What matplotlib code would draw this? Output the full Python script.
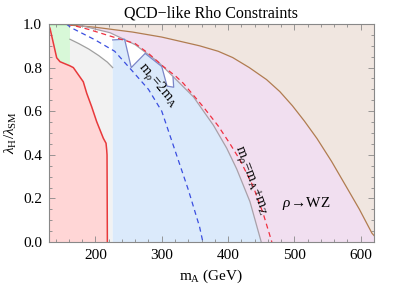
import numpy as np
import matplotlib
matplotlib.use("Agg")
import matplotlib.pyplot as plt
from matplotlib.ticker import MultipleLocator

plt.rcParams["font.family"] = ["Liberation Serif", "DejaVu Serif"]
plt.rcParams["mathtext.fontset"] = "custom"
plt.rcParams["mathtext.rm"] = "Liberation Serif"
plt.rcParams["mathtext.it"] = "Liberation Serif:italic"

# curves (m_A in GeV, lambda_H/lambda_SM)
red_x = [130, 131.5, 141.6, 146.6, 161.6, 166.7, 181.7, 186.9, 194.4, 201.9, 211.9, 216.0, 217.0, 217.5, 218.0]
red_y = [0.99, 0.98, 0.845, 0.827, 0.808, 0.80, 0.735, 0.682, 0.62, 0.552, 0.476, 0.453, 0.422, 0.40, 0.0]

gray_x = [161.6, 175, 190, 205, 218, 226]
gray_y = [0.93, 0.91, 0.885, 0.855, 0.825, 0.80]

brown_x = [161, 200, 256, 300, 357, 385, 407, 432, 458, 478, 497, 515, 534, 556, 578, 598, 617, 620]
brown_y = [0.995, 0.985, 0.963, 0.94, 0.90, 0.875, 0.846, 0.80, 0.745, 0.69, 0.625, 0.555, 0.475, 0.37, 0.255, 0.15, 0.04, 0.03]

wz_x = [175, 222, 260, 295, 320, 348, 378, 398, 413, 433, 450]
wz_y = [0.995, 0.96, 0.905, 0.825, 0.75, 0.665, 0.535, 0.43, 0.335, 0.185, 0.0]

zig_x = [226, 244, 254, 275, 300, 308, 318, 317]
zig_y = [0.927, 0.93, 0.80, 0.865, 0.805, 0.715, 0.71, 0.755]

bd_x = [156, 164, 199, 229, 254, 280, 300, 320, 340, 357, 362]
bd_y = [1.0, 0.982, 0.928, 0.875, 0.79, 0.70, 0.60, 0.42, 0.24, 0.07, 0.0]

rd_x = [158, 190, 224, 260, 280, 302, 322, 332.5, 362.6, 385, 403, 418, 438, 453, 466]
rd_y = [1.0, 0.975, 0.943, 0.91, 0.865, 0.806, 0.758, 0.728, 0.62, 0.533, 0.45, 0.376, 0.254, 0.13, 0.0]

blue_left = 226
green_right = 161.6

fig = plt.figure(figsize=(3.99, 2.88), dpi=100)
ax = fig.add_axes([0.1228, 0.1597, 0.8145, 0.757])

# tan region above / right of the brown curve
ax.fill(brown_x + [620, 161], brown_y + [1.0, 1.0], color="#f0e6e0", lw=0)
# purple region between WZ threshold and brown curve
px = wz_x + [620] + brown_x[::-1]
py = wz_y + [0.0] + brown_y[::-1]
ax.fill(px, py, color="#f1dff0", lw=0)
# gray region
gx = gray_x + [blue_left, red_x[-1]] + [x for x in red_x[::-1] if x >= green_right]
gy = gray_y + [0.0, 0.0] + [y for x, y in zip(red_x[::-1], red_y[::-1]) if x >= green_right]
ax.fill(gx, gy, color="#f2f2f2", lw=0)
# blue region
i0 = next(i for i, x in enumerate(wz_x) if x > zig_x[-1])
bx = [blue_left] + zig_x + wz_x[i0:] + [blue_left]
by = [0.0] + zig_y + wz_y[i0:] + [0.0]
ax.fill(bx, by, color="#dbeafb", lw=0)
# green region
grx = [x for x in red_x if x <= green_right]
gry = [y for x, y in zip(red_x, red_y) if x <= green_right]
ax.fill(grx + [green_right, 130], gry + [1.0, 1.0], color="#d8f8d8", lw=0)
ax.plot([130, green_right], [0.998, 0.998], color="#66cc66", lw=1)
# red region
ax.fill([130] + red_x + [130], [0.0] + red_y + [0.0], color="#ffd6d6", lw=0)

ax.plot(red_x, red_y, color="#e8393b", lw=1.1)
ax.plot(gray_x, gray_y, color="#a0a0a0", lw=0.9)
ax.plot(brown_x, brown_y, color="#b07c50", lw=0.9)
ax.plot(wz_x, wz_y, color="#a8a0a8", lw=0.9)
ax.plot(zig_x, zig_y, color="#7b86c8", lw=0.9)
ax.plot(bd_x, bd_y, color="#3a4ee0", lw=0.9, ls=(0, (4, 3)))
ax.plot(rd_x, rd_y, color="#f03040", lw=0.9, ls=(0, (4, 3)))

ax.text(293.7, 0.716, r"$\mathrm{m}_\rho\!=\!2\mathrm{m}_\mathrm{A}$", fontsize=10.5,
        rotation=-50, ha="center", va="center", rotation_mode="anchor")
ax.text(434.7, 0.284, r"$\mathrm{m}_\rho\!=\!\mathrm{m}_\mathrm{A}\!+\!\mathrm{m}_\mathrm{Z}$", fontsize=10.5,
        rotation=-69, ha="center", va="center", rotation_mode="anchor")
ax.text(518, 0.177, r"$\rho\!\rightarrow\!\mathrm{WZ}$", fontsize=11, ha="center", va="center")

ax.set_xlim(130, 620)
ax.set_ylim(0, 1.0)
ax.xaxis.set_major_locator(MultipleLocator(100))
ax.xaxis.set_minor_locator(MultipleLocator(20))
ax.yaxis.set_major_locator(MultipleLocator(0.2))
ax.yaxis.set_minor_locator(MultipleLocator(0.05))
ax.yaxis.set_major_formatter(matplotlib.ticker.FormatStrFormatter("%.1f"))
ax.tick_params(which="both", direction="in", top=True, right=True, color="#888888",
               labelsize=11, width=0.6)
ax.tick_params(which="major", length=4.5, pad=5)
ax.tick_params(which="minor", length=2.5)
for s in ax.spines.values():
    s.set_color("#888888")
    s.set_linewidth(0.8)

ax.set_title("QCD\u2212like Rho Constraints", fontsize=11.5, pad=5)
ax.set_xlabel(r"$\mathrm{m}_\mathrm{A}$ (GeV)", fontsize=11)
ax.set_ylabel(r"$\lambda_\mathrm{H}/\lambda_\mathrm{SM}$", fontsize=11, labelpad=3)

fig.savefig("out.png", dpi=100)
